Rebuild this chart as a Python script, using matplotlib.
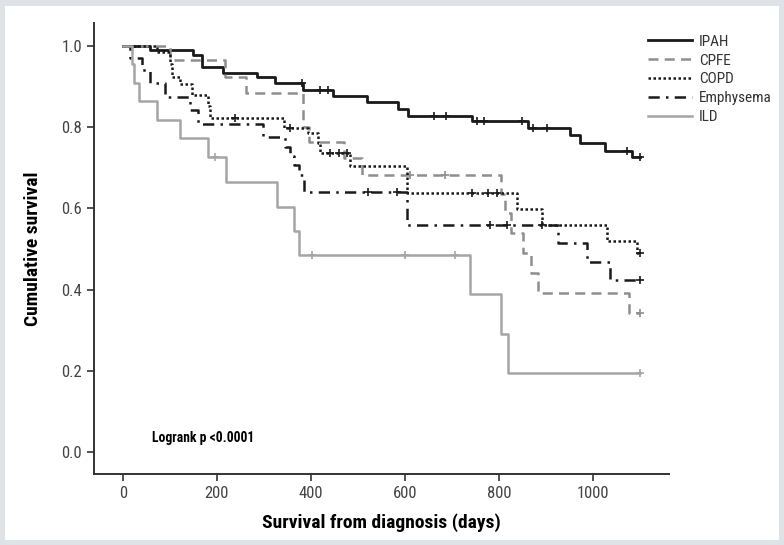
import matplotlib
matplotlib.use("Agg")
import matplotlib.pyplot as plt
from matplotlib import font_manager
from matplotlib.patches import Rectangle

# the reference uses a condensed sans, take one if the system has it
fam = 'Liberation Sans'
stretch = 'normal'
names = [f.name for f in font_manager.fontManager.ttflist]
for cand in ['Liberation Sans Narrow', 'Roboto Condensed', 'Open Sans Condensed', 'DejaVu Sans Condensed']:
    if cand in names:
        fam = cand
        break
else:
    for f in font_manager.fontManager.ttflist:
        if f.name == 'DejaVu Sans' and 'condensed' in str(f.stretch):
            fam = 'DejaVu Sans'
            stretch = 'condensed'
            break
plt.rcParams['font.family'] = [fam, 'DejaVu Sans']
plt.rcParams['font.stretch'] = stretch
narrow = fam != 'Liberation Sans'

# step times (days) and survival after each step
ipah_t = [0, 58, 150, 168, 213, 285, 324, 383, 447, 519, 585, 607, 742, 862, 951, 972, 1026, 1082]
ipah_s = [1.0, 0.990, 0.978, 0.949, 0.934, 0.923, 0.908, 0.892, 0.877, 0.863, 0.844, 0.828, 0.816, 0.797, 0.781, 0.760, 0.742, 0.727]
ipah_cens = [381, 420, 437, 661, 687, 753, 768, 848, 872, 901, 1072, 1100]

cpfe_t = [0, 100, 218, 262, 384, 395, 470, 508, 803, 812, 825, 850, 868, 882, 1075]
cpfe_s = [1.0, 0.966, 0.924, 0.884, 0.800, 0.764, 0.723, 0.682, 0.635, 0.588, 0.539, 0.489, 0.440, 0.391, 0.342]
cpfe_cens = [611, 684, 1100]

copd_t = [0, 72, 100, 104, 122, 147, 182, 185, 342, 394, 415, 420, 482, 604, 839, 891, 1029, 1093]
copd_s = [1.0, 0.986, 0.955, 0.924, 0.905, 0.878, 0.851, 0.822, 0.797, 0.785, 0.760, 0.735, 0.703, 0.637, 0.598, 0.559, 0.520, 0.489]
copd_cens = [239, 356, 441, 459, 476, 742, 777, 795, 1100]

emph_t = [0, 16, 40, 58, 90, 143, 160, 298, 345, 355, 365, 375, 385, 604, 926, 987, 1036]
emph_s = [1.0, 0.970, 0.940, 0.908, 0.875, 0.842, 0.807, 0.775, 0.752, 0.729, 0.706, 0.683, 0.641, 0.559, 0.514, 0.469, 0.424]
emph_cens = [522, 583, 781, 816, 891, 1100]

ild_t = [0, 20, 24, 34, 73, 122, 181, 220, 327, 363, 374, 739, 805, 818]
ild_s = [1.0, 0.955, 0.909, 0.864, 0.818, 0.773, 0.727, 0.665, 0.604, 0.545, 0.485, 0.388, 0.291, 0.194]
ild_cens = [197, 402, 600, 707, 1100]

end_day = 1100

fig = plt.figure(figsize=(7.84, 5.45), dpi=100, facecolor='#dfe2e6')
fig.patches.append(Rectangle((5/784, 5/545), 774/784, 534/545, transform=fig.transFigure,
                             facecolor='white', edgecolor='none', zorder=-5))
ax = fig.add_axes([94/784, 71/545, 575/784, 451.3/545])
ax.set_facecolor('none')
ax.set_zorder(2)

def km(t, s, cens, label, color, dashes=None, lw=1.8):
    tt = list(t) + [end_day]
    ss = list(s) + [s[-1]]
    line, = ax.step(tt, ss, where='post', color=color, lw=lw, label=label)
    if dashes is not None:
        line.set_dashes(dashes)
    # censor marks
    cy = []
    for c in cens:
        k = 0
        for i in range(len(t)):
            if t[i] <= c:
                k = i
        cy.append(s[k])
    ax.plot(cens, cy, '+', color=color, ms=6, mew=1.2)
    return line

h1 = km(ipah_t, ipah_s, ipah_cens, 'IPAH', '#1a1a1a', lw=2.0)
h2 = km(cpfe_t, cpfe_s, cpfe_cens, 'CPFE', '#8e8e8e', dashes=(4, 2.5))
h3 = km(copd_t, copd_s, copd_cens, 'COPD', '#1a1a1a', dashes=(1, 1))
h4 = km(emph_t, emph_s, emph_cens, 'Emphysema', '#1a1a1a', dashes=(4.5, 2.5, 1, 2.5))
h5 = km(ild_t, ild_s, ild_cens, 'ILD', '#a5a5a5')

ax.set_xlim(-61, 1161)
ax.set_ylim(-0.054, 1.057)
ax.set_xticks([0, 200, 400, 600, 800, 1000])
ax.set_yticks([0.0, 0.2, 0.4, 0.6, 0.8, 1.0])
ax.set_yticklabels(['0.0', '0.2', '0.4', '0.6', '0.8', '1.0'])
for sp in ['top', 'right']:
    ax.spines[sp].set_visible(False)
for sp in ['left', 'bottom']:
    ax.spines[sp].set_color('#333333')
    ax.spines[sp].set_linewidth(1.4)

if narrow:
    tick_fs, lab_fs, lr_fs, leg_fs = 12, 14, 9.8, 11
else:
    tick_fs, lab_fs, lr_fs, leg_fs = 10.5, 12, 8, 10
ax.tick_params(direction='out', length=5, width=1.2, color='#333333',
               labelsize=tick_fs, labelcolor='#444444')

ax.set_xlabel('Survival from diagnosis (days)', fontsize=lab_fs, fontweight='bold', labelpad=9)
ax.set_ylabel('Cumulative survival', fontsize=lab_fs, fontweight='bold', labelpad=14)
ax.text(62, 0.035, 'Logrank p <0.0001', fontsize=lr_fs, fontweight='bold', va='center')

fig.legend(handles=[h1, h2, h3, h4, h5], loc='upper left',
           bbox_to_anchor=(637/784, 1 - 24/545), frameon=False,
           fontsize=leg_fs, handlelength=2.9, labelspacing=0.32, handletextpad=0.45,
           labelcolor='#333333', borderpad=0.2)

plt.savefig('out.png', dpi=100, facecolor=fig.get_facecolor())
